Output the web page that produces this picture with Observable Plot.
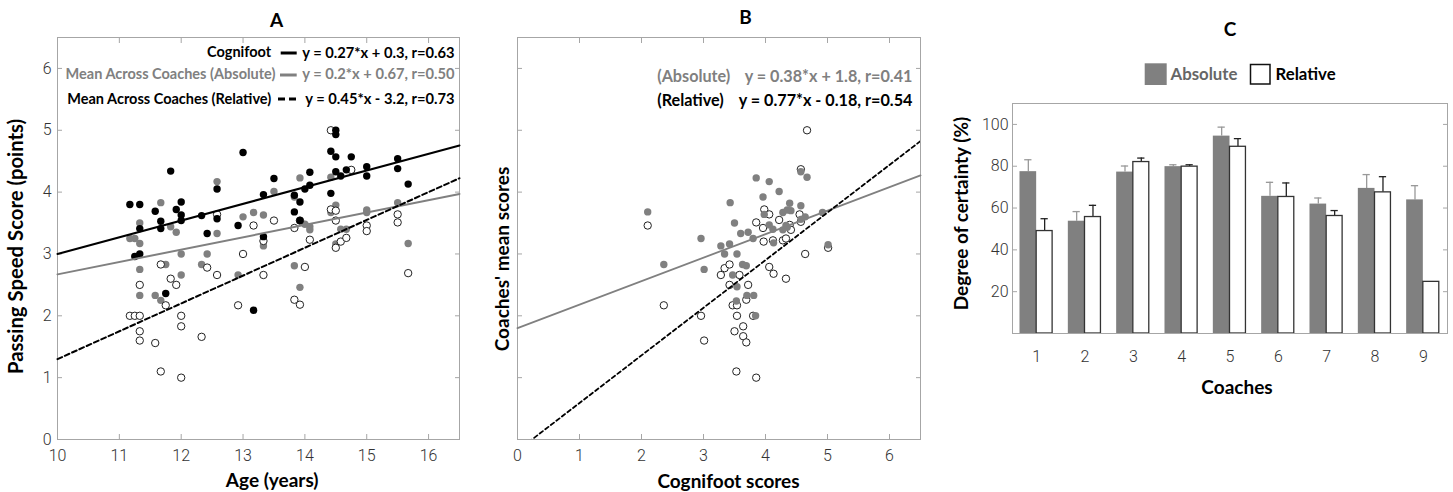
<!DOCTYPE html>
<html><head><meta charset="utf-8">
<script src="https://cdn.jsdelivr.net/npm/d3@7"></script>
<script src="https://cdn.jsdelivr.net/npm/@observablehq/plot@0.6"></script>
<style>
body{margin:0;background:#fff;}
#wrap{position:relative;width:1453px;height:492px;overflow:hidden;}
.panel{position:absolute;top:0;}
</style></head><body>
<div id="wrap"><div class="panel" id="pa" style="left:0px"></div><div class="panel" id="pb" style="left:490px"></div><div class="panel" id="pc" style="left:940px"></div></div>
<script>
// ---------- DATA ----------
// Panel A: [age, score]
const ageCognifoot = [[11.17,3.80],[11.33,3.80],[11.33,3.41],[11.33,3.00],[11.25,2.96],[11.58,3.69],[11.67,3.53],[11.67,3.41],[11.75,2.36],[11.83,4.34],[11.92,3.72],[12.00,3.84],[12.00,3.63],[12.00,3.54],[12.33,3.62],[12.42,3.33],[12.58,4.05],[12.58,3.57],[12.92,3.46],[13.00,4.64],[13.17,2.09],[13.33,3.96],[13.33,3.28],[13.50,4.22],[13.83,3.68],[13.83,3.95],[13.92,3.84],[13.92,3.54],[14.00,4.05],[14.08,4.11],[14.08,4.32],[14.42,4.66],[14.42,3.98],[14.50,5.00],[14.50,4.93],[14.50,4.57],[14.50,4.33],[14.58,4.26],[14.67,4.36],[14.75,4.57],[15.00,4.41],[15.00,4.26],[15.50,4.54],[15.50,4.38],[15.67,4.13]];
const ageAbsolute = [[11.17,3.25],[11.25,3.25],[11.33,3.50],[11.33,3.17],[11.33,2.75],[11.33,2.33],[11.58,2.33],[11.67,3.83],[11.67,2.25],[11.75,2.83],[11.83,3.44],[11.92,3.35],[12.00,3.00],[12.00,2.66],[12.33,2.83],[12.42,3.00],[12.58,4.17],[12.58,3.33],[12.92,2.66],[13.00,3.60],[13.17,3.67],[13.33,3.63],[13.33,3.13],[13.50,4.01],[13.83,3.92],[13.83,2.81],[13.92,4.23],[13.92,2.46],[14.00,3.48],[14.08,3.44],[14.08,3.39],[14.42,4.24],[14.42,3.67],[14.50,3.79],[14.50,3.16],[14.58,3.40],[14.67,3.40],[14.75,4.35],[15.00,3.71],[15.00,3.67],[15.50,3.83],[15.67,3.17]];
const ageRelative = [[11.17,2.00],[11.25,2.00],[11.33,2.00],[11.33,2.50],[11.33,1.75],[11.33,1.60],[11.58,1.56],[11.67,2.83],[11.67,1.10],[11.75,2.17],[11.83,2.60],[11.92,2.50],[12.00,2.00],[12.00,1.83],[12.00,1.00],[12.33,1.66],[12.42,2.78],[12.58,3.64],[12.58,2.66],[12.92,2.17],[13.00,3.00],[13.17,3.46],[13.33,3.21],[13.33,2.66],[13.50,3.54],[13.83,3.42],[13.83,2.26],[13.92,2.18],[13.92,3.54],[14.00,2.79],[14.08,3.23],[14.42,5.00],[14.42,3.72],[14.50,3.70],[14.50,3.54],[14.50,3.10],[14.58,3.20],[14.67,3.26],[14.75,4.36],[15.00,3.46],[15.00,3.37],[15.50,3.64],[15.50,3.51],[15.67,2.69]];
const fitsA = [
  {label:"Cognifoot", eq:"y = 0.27*x + 0.3, r=0.63", slope:0.27, intercept:0.3},
  {label:"Mean Across Coaches (Absolute)", eq:"y = 0.2*x + 0.67, r=0.50", slope:0.2, intercept:0.67},
  {label:"Mean Across Coaches (Relative)", eq:"y = 0.45*x - 3.2, r=0.73", slope:0.45, intercept:-3.2}
];
// Panel B: [cognifoot score, coaches' mean score]
const cogAbsolute = [[2.10,3.68],[2.36,2.83],[2.96,3.25],[3.01,2.75],[3.28,3.13],[3.34,3.00],[3.42,3.16],[3.43,3.83],[3.50,3.50],[3.54,3.00],[3.60,3.33],[3.72,3.35],[3.80,3.25],[3.47,2.66],[3.63,2.83],[3.69,2.81],[3.54,2.47],[3.70,2.33],[3.81,2.33],[3.53,2.24],[3.84,2.00],[3.85,4.23],[4.06,4.17],[3.96,3.92],[3.98,3.64],[4.22,4.01],[4.39,3.82],[4.06,3.47],[4.12,3.40],[4.13,3.18],[4.28,3.67],[4.35,3.71],[4.41,3.70],[4.28,3.39],[4.35,3.43],[4.57,3.78],[4.57,4.33],[4.67,4.24],[4.57,3.56],[4.64,3.60],[4.92,3.67],[5.01,3.15],[4.33,3.46]];
const cogRelative = [[2.10,3.46],[2.36,2.17],[2.96,2.00],[3.01,1.60],[3.28,2.66],[3.34,2.77],[3.42,2.83],[3.42,2.50],[3.47,2.17],[3.54,2.17],[3.54,2.00],[3.50,1.75],[3.53,1.10],[3.58,2.66],[3.64,1.83],[3.64,1.67],[3.69,1.57],[3.69,2.26],[3.72,2.50],[3.80,2.00],[3.85,1.00],[3.85,3.51],[3.96,3.42],[3.97,3.20],[3.98,3.72],[4.06,3.64],[4.06,2.79],[4.13,2.68],[4.12,3.22],[4.22,3.55],[4.28,3.22],[4.33,3.25],[4.33,2.60],[4.39,3.47],[4.41,3.39],[4.55,3.64],[4.57,4.37],[4.57,3.52],[4.64,3.00],[5.01,3.10],[4.67,5.00]];
const fitsB = [
  {label:"(Absolute)", eq:"y = 0.38*x + 1.8, r=0.41", slope:0.38, intercept:1.8},
  {label:"(Relative)", eq:"y = 0.77*x - 0.18, r=0.54", slope:0.77, intercept:-0.18}
];
// Panel C
const coaches = [1,2,3,4,5,6,7,8,9];
const absoluteCertainty = [77.4,53.7,77.2,79.8,94.4,65.6,61.9,69.4,63.9];
const absoluteError = [5.7,4.6,2.9,0.9,4.3,6.7,2.9,6.6,6.8];
const relativeCertainty = [49.0,55.7,82.0,79.8,89.3,65.3,56.2,67.5,24.7];
const relativeError = [5.9,5.6,1.9,0.9,3.9,6.7,2.6,7.5,0];
const seriesC = ["Absolute","Relative"];

// ---------- STYLE ----------
const BOLD = "Lato, 'Open Sans', sans-serif";
const TICKF = "Roboto, 'Noto Sans', sans-serif";
const GRAY = "#808080";
const FRAME = "#a6a6a6";
const TICKC = "#333";

function boxAxes(xTicks, yTicks, {xLab=true, yLab=true, fs=16, xPad=15, yPad=11, tsize=-5, xTick=true}={}) {
  const common = {fontFamily: TICKF, fontSize: fs, fontWeight: 300, fill: TICKC, stroke: FRAME, label: null};
  return [
    Plot.frame({stroke: FRAME}),
    Plot.axisX({...common, anchor:"bottom", ticks:xTicks, tickSize: xTick ? tsize : 0, tickPadding: xPad, tickFormat: xLab ? d=>String(d) : ()=>""}),
    Plot.axisY({...common, anchor:"left", ticks:yTicks, tickSize:tsize, tickPadding:yPad, tickFormat: yLab ? d=>String(d) : ()=>""}),
    Plot.axisY({...common, anchor:"right", ticks:yTicks, tickSize:tsize, tickFormat: ()=>""}),
  ];
}
function label(text, opts) {
  return Plot.text([text], {text: d=>d, fontFamily: BOLD, fontWeight: "bold", fill:"#000", lineAnchor: "middle", textAnchor: "middle", ...opts});
}
function fitLine(f, domain) {
  return domain.map(x => ({x, y: f.slope*x + f.intercept}));
}
const svgStyle = {background:"transparent", overflow:"visible", fontFamily: TICKF};

// ---------- PANEL A ----------
const xdA = [10, 16.5];
const A = Plot.plot({
  width: 490, height: 492, marginLeft: 57, marginRight: 31, marginTop: 37, marginBottom: 53,
  style: svgStyle,
  x: {domain: xdA}, y: {domain: [0, 6.5]},
  marks: [
    ...boxAxes([10,11,12,13,14,15,16],[0,1,2,3,4,5,6]),
    Plot.axisX({anchor:"top", ticks:[11,12,13,14,15,16], tickSize:-5, stroke: FRAME, tickFormat:()=>"", label:null}),
    Plot.dot(ageAbsolute, {x: d=>d[0], y: d=>d[1], r: 3.7, fill: GRAY}),
    Plot.dot(ageRelative, {x: d=>d[0], y: d=>d[1], r: 3.7, fill: "#fff", stroke: "#222", strokeWidth: 1}),
    Plot.dot(ageCognifoot, {x: d=>d[0], y: d=>d[1], r: 3.7, fill: "#000"}),
    Plot.line(fitLine(fitsA[1], xdA), {x:"x", y:"y", stroke: GRAY, strokeWidth: 2}),
    Plot.line(fitLine(fitsA[0], xdA), {x:"x", y:"y", stroke: "#000", strokeWidth: 2}),
    Plot.line(fitLine(fitsA[2], xdA), {x:"x", y:"y", stroke: "#000", strokeWidth: 2, strokeDasharray: "5,3"}),
    label("A", {frameAnchor:"top", dx: 18, dy: -17, fontSize: 19}),
    label("Age (years)", {frameAnchor:"bottom", dx: 13.7, dy: 41, fontSize: 19}),
    label("Passing Speed Score (points)", {frameAnchor:"left", dx: -41, dy: 8, rotate: -90, fontSize: 20.3}),
    label(fitsA[0].label, {frameAnchor:"top-left", textAnchor:"end", dx: 270.7-57, dy: 52.3-37, fontSize: 14.5}),
    label(fitsA[1].label, {frameAnchor:"top-left", textAnchor:"end", dx: 275-57, dy: 74-37, fontSize: 14.5, fill: GRAY}),
    label(fitsA[2].label, {frameAnchor:"top-left", textAnchor:"end", dx: 270.7-57, dy: 98.7-37, fontSize: 14.5}),
    label(fitsA[0].eq, {frameAnchor:"top-right", textAnchor:"end", dx: -5, dy: 52.3-37, fontSize: 14.7}),
    label(fitsA[1].eq, {frameAnchor:"top-right", textAnchor:"end", dx: -5, dy: 74-37, fontSize: 14.7, fill: GRAY}),
    label(fitsA[2].eq, {frameAnchor:"top-right", textAnchor:"end", dx: -5, dy: 98.7-37, fontSize: 14.7}),
  ]
});
{
  const s = d3.select(A);
  s.append("line").attr("x1",280.7).attr("x2",296.7).attr("y1",53).attr("y2",53).attr("stroke","#000").attr("stroke-width",3);
  s.append("line").attr("x1",280).attr("x2",296.7).attr("y1",75).attr("y2",75).attr("stroke",GRAY).attr("stroke-width",3);
  s.append("line").attr("x1",278).attr("x2",297).attr("y1",99).attr("y2",99).attr("stroke","#000").attr("stroke-width",3).attr("stroke-dasharray","7,4");
}
document.getElementById("pa").append(A);

// ---------- PANEL B ----------
const xdB = [0, 6.5];
const B = Plot.plot({
  width: 450, height: 492, marginLeft: 27, marginRight: 20, marginTop: 37, marginBottom: 53,
  style: svgStyle,
  x: {domain: xdB}, y: {domain: [0, 6.5]},
  marks: [
    ...boxAxes([0,1,2,3,4,5,6],[1,2,3,4,5,6], {yLab:false}),
    Plot.axisX({anchor:"top", ticks:[1,2,3,4,5,6], tickSize:-5, stroke: FRAME, tickFormat:()=>"", label:null}),
    Plot.dot(cogRelative, {x: d=>d[0], y: d=>d[1], r: 3.7, fill: "#fff", stroke: "#222", strokeWidth: 1}),
    Plot.dot(cogAbsolute, {x: d=>d[0], y: d=>d[1], r: 3.7, fill: GRAY}),
    Plot.line(fitLine(fitsB[0], xdB), {x:"x", y:"y", stroke: GRAY, strokeWidth: 1.8}),
    Plot.line(fitLine(fitsB[1], xdB), {x:"x", y:"y", stroke: "#000", strokeWidth: 1.8, strokeDasharray: "4,3", clip: true}),
    label("B", {frameAnchor:"top", dx: 26.5, dy: -20, fontSize: 19}),
    label("Cognifoot scores", {frameAnchor:"bottom", dx: 9.5, dy: 42, fontSize: 19}),
    label("Coaches' mean scores", {frameAnchor:"left", dx: -15, dy: 20.5, rotate: -90, fontSize: 19}),
    label(fitsB[0].label, {frameAnchor:"top-left", textAnchor:"start", dx: 656.7-517, dy: 76-37, fontSize: 16.2, fill: GRAY}),
    label(fitsB[1].label, {frameAnchor:"top-left", textAnchor:"start", dx: 656.7-517, dy: 100-37, fontSize: 16.2}),
    label(fitsB[0].eq, {frameAnchor:"top-right", textAnchor:"end", dx: -8, dy: 76-37, fontSize: 16.2, fill: GRAY}),
    label(fitsB[1].eq, {frameAnchor:"top-right", textAnchor:"end", dx: -8, dy: 100-37, fontSize: 16.2}),
  ]
});
document.getElementById("pb").append(B);

// ---------- PANEL C ----------
const tableC = coaches.flatMap((c, i) => [
  {coach: c, series: "Absolute", value: absoluteCertainty[i], err: absoluteError[i]},
  {coach: c, series: "Relative", value: relativeCertainty[i], err: relativeError[i]}
]);
const off = {Absolute: [-0.345, 0], Relative: [0, 0.33]};
const mid = d => d.coach + (off[d.series][0] + off[d.series][1]) / 2;
const absT = tableC.filter(d => d.series === "Absolute");
const relT = tableC.filter(d => d.series === "Relative");
const relE = relT.filter(d => d.err > 0);
const C = Plot.plot({
  width: 513, height: 492, marginLeft: 72, marginRight: 6, marginTop: 103, marginBottom: 159,
  style: svgStyle,
  x: {domain: [0.5, 9.5]}, y: {domain: [0, 110]},
  marks: [
    Plot.ruleX(absT, {x: mid, y1: "value", y2: d => d.value + d.err, stroke: "#999", strokeWidth: 1.3}),
    Plot.ruleY(absT, {y: d => d.value + d.err, x1: d => mid(d) - 0.075, x2: d => mid(d) + 0.075, stroke: "#999", strokeWidth: 1.3}),
    Plot.ruleX(relE, {x: mid, y1: "value", y2: d => d.value + d.err, stroke: "#222", strokeWidth: 1.3}),
    Plot.ruleY(relE, {y: d => d.value + d.err, x1: d => mid(d) - 0.075, x2: d => mid(d) + 0.075, stroke: "#222", strokeWidth: 1.3}),
    Plot.rectY(absT, {x1: d => d.coach + off.Absolute[0], x2: d => d.coach + off.Absolute[1], y: "value", fill: GRAY}),
    Plot.rectY(relT, {x1: d => d.coach + off.Relative[0], x2: d => d.coach + off.Relative[1], y: "value", fill: "#fff", stroke: "#333", strokeWidth: 1.3}),
    ...boxAxes(coaches, [20,40,60,80,100], {xTick:false, xPad: 17, yPad: 9}),
    label("C", {frameAnchor:"top", dx: 0, dy: -74, fontSize: 19}),
    label("Coaches", {frameAnchor:"bottom", dx: 7, dy: 54, fontSize: 19}),
    label("Degree of certainty (%)", {frameAnchor:"left", dx: -50.3, dy: -5, rotate: -90, fontSize: 19}),
    label(seriesC[0], {frameAnchor:"top-left", textAnchor:"start", dx: 1170-1012, dy: 74-103, fontSize: 16.8, fill: "#666"}),
    label(seriesC[1], {frameAnchor:"top-left", textAnchor:"start", dx: 1275-1012, dy: 74-103, fontSize: 16.8}),
  ]
});
{
  const s = d3.select(C);
  s.append("rect").attr("x",1144.7-940).attr("y",63.3).attr("width",22).attr("height",21.7).attr("fill",GRAY);
  s.append("rect").attr("x",1250.5-940).attr("y",64.5).attr("width",19.5).attr("height",19.5).attr("fill","#fff").attr("stroke","#111").attr("stroke-width",1.5);
}
document.getElementById("pc").append(C);
</script>
</body></html>
